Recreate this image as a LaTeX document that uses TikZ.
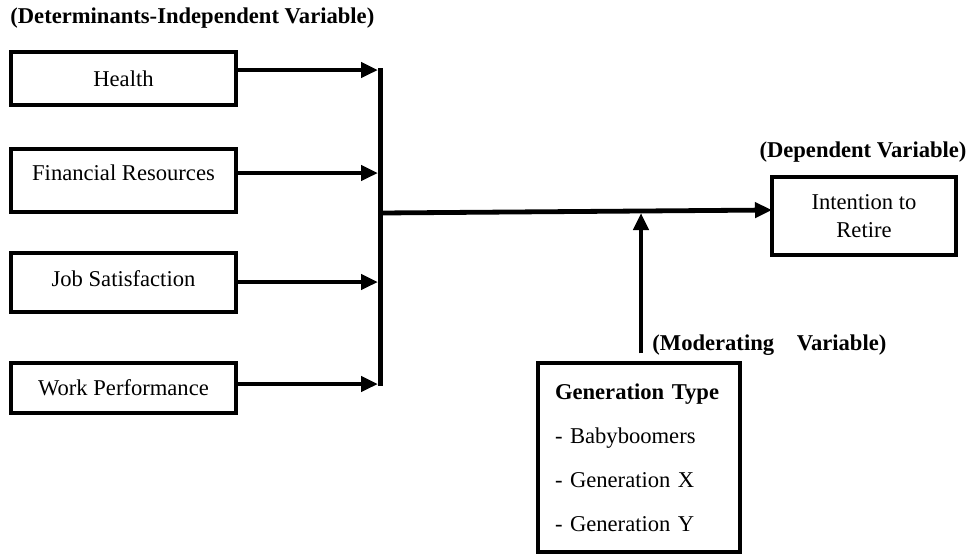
\documentclass[tikz,border=0pt]{standalone}
\usepackage{fontspec}
\setmainfont{Liberation Serif}
\usetikzlibrary{arrows.meta}

\begin{document}
\begin{tikzpicture}[x=0.5pt,y=-0.5pt]
\useasboundingbox (0,0) rectangle (976,554);
%% box and arrow styles
\tikzstyle{vbox}=[draw=black,line width=1.7pt,rectangle,inner sep=0pt,minimum width=112.5pt,font=\fontsize{11.3}{13.6}\selectfont]
\tikzstyle{heading}=[font=\fontsize{11.3}{13.6}\selectfont\bfseries,inner sep=0pt]
\tikzstyle{link}=[line width=2.4pt,-{Triangle[length=8.5pt,width=7.5pt]}]

%% nodes
% determinants
\node[heading,anchor=west] (T-ind) at (10,18) {(Determinants-Independent Variable)};
\foreach \name/\txt/\y/\h/\d in {health/Health/78.5/26.5/0pt, fin/Financial Resources/180.5/31.5/7.5pt, job/Job Satisfaction/282.5/29.5/3.5pt, work/Work Performance/388/25/0pt}
\node[vbox,minimum height=\h pt,text depth=\d] (V-\name) at (123.5,\y) {\txt};
% dependent
\node[heading] (T-dep) at (863,152) {(Dependent Variable)};
\node[vbox,minimum width=92pt,minimum height=39pt,align=center,font=\fontsize{11.3}{14}\selectfont] (V-ret) at (864,216) {Intention to\\Retire};
% moderator
\node[heading,anchor=west] (T-mod) at (652,345) {(Moderating\quad Variable)};
\node[vbox,minimum width=101pt,minimum height=94.5pt,text width=84pt,inner xsep=8.5pt,align=left,font=\fontsize{11.3}{22}\selectfont] (V-gen) at (639,457.5) {\textbf{Generation Type}\\- Babyboomers\\- Generation X\\- Generation Y};

%% points on the bar
\foreach \name/\y in {health/70,fin/173,job/282,work/384}
\coordinate (B-\name) at (378,\y);
\coordinate (B-out) at (380,213);
\coordinate (R-in) at (772,210);
\coordinate (M-in) at (641,213);

%% arrows
\foreach \name in {health,fin,job,work}
\draw[link] (V-\name.east |- B-\name) -- (B-\name);
\draw[line width=2.4pt,line cap=rect] ([xshift=1.2pt]B-health) -- ([xshift=1.2pt]B-work);
\draw[link] (B-out) -- (R-in);
\draw[link] ([yshift=4pt]V-gen.north -| M-in) -- (M-in);
\end{tikzpicture}
\end{document}
